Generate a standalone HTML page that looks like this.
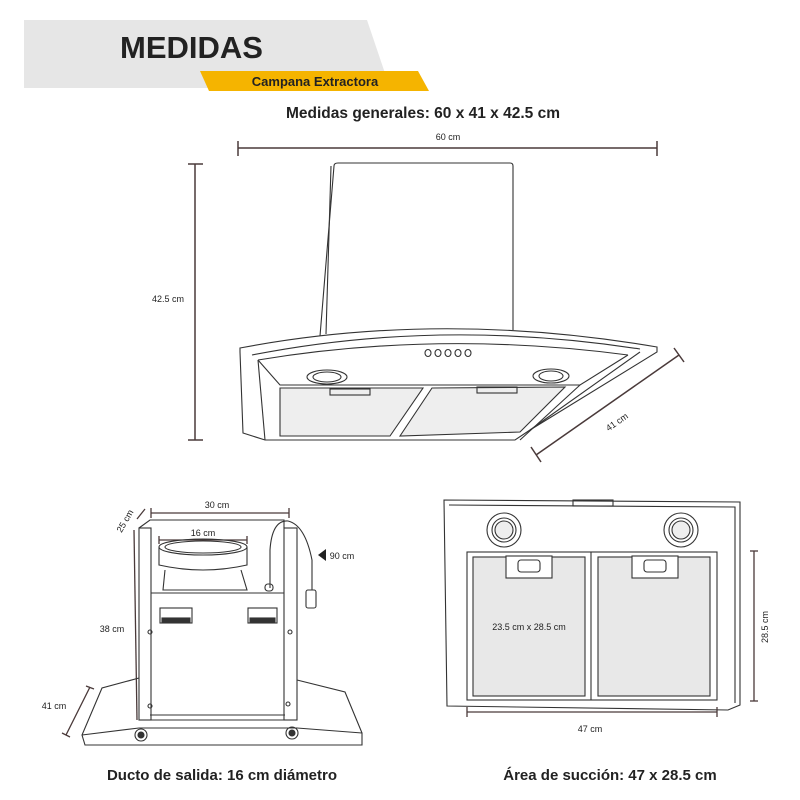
<!DOCTYPE html>
<html><head><meta charset="utf-8"><style>
html,body{margin:0;padding:0;background:#fff;}
svg{display:block;}
text{font-family:"Liberation Sans Narrow","Liberation Sans",sans-serif;fill:#222;}
</style></head><body>
<svg width="800" height="800" viewBox="0 0 800 800" xmlns="http://www.w3.org/2000/svg">
<!-- header -->
<polygon points="24,20 367,20 390,88 24,88" fill="#e6e6e6"/>
<text x="120" y="58" font-size="31" font-weight="bold" fill="#1a1a1a" style="font-family:'Liberation Sans',sans-serif">MEDIDAS</text>
<polygon points="200,71 418,71 429,91 209,91" fill="#f5b400"/>
<text x="315" y="86" font-size="13" font-weight="bold" text-anchor="middle">Campana Extractora</text>
<text x="423" y="118" font-size="15.5" font-weight="bold" text-anchor="middle">Medidas generales: 60 x 41 x 42.5 cm</text>

<g stroke="#4a3a3a" stroke-width="1.5" fill="none">
<line x1="238" y1="148" x2="657" y2="148"/><line x1="238" y1="141" x2="238" y2="156"/><line x1="657" y1="141" x2="657" y2="156"/>
<line x1="195" y1="164" x2="195" y2="440"/><line x1="188" y1="164" x2="203" y2="164"/><line x1="188" y1="440" x2="203" y2="440"/>
<line x1="536" y1="455" x2="679" y2="355"/><line x1="531" y1="447" x2="541" y2="462"/><line x1="674" y1="348" x2="684" y2="362"/>
</g>
<text x="448" y="140" font-size="9" text-anchor="middle">60 cm</text>
<text x="168" y="302" font-size="9" text-anchor="middle">42.5 cm</text>
<text x="617" y="425" font-size="9" text-anchor="middle" transform="rotate(-35 617 422)">41 cm</text>

<!-- hood -->
<g stroke="#333" stroke-width="1.1" fill="none">
<path d="M320,336 L334,166 Q334,163 338,163 L510,163 Q513,163 513,166 L513,330"/>
<line x1="331" y1="166" x2="326" y2="334"/>
<path d="M240,348 Q440,310 657,347 L657,352 L530,430 L515,440 L265,440 L243,433 L240,352 Z"/>
<path d="M252,355 Q440,318 640,349"/>
<path d="M258,360 Q440,330 628,355"/>
<path d="M258,360 L280,385 L580,385 L628,355"/>
<line x1="265" y1="440" x2="258" y2="360"/>
<polygon points="280,388 423,388 390,436 280,436" fill="#eee"/>
<polygon points="432,388 565,387 520,432 400,436" fill="#eee"/>
<line x1="580" y1="385" x2="520" y2="440"/>
<line x1="640" y1="352" x2="530" y2="430"/>
<ellipse cx="327" cy="377" rx="20" ry="7"/><ellipse cx="327" cy="377" rx="14" ry="5"/>
<ellipse cx="551" cy="376" rx="18" ry="7"/><ellipse cx="551" cy="376" rx="12" ry="5"/>
<rect x="330" y="389" width="40" height="6"/><rect x="477" y="387" width="40" height="6"/>
<ellipse cx="428" cy="353" rx="3" ry="3.5"/><ellipse cx="438" cy="353" rx="3" ry="3.5"/><ellipse cx="448" cy="353" rx="3" ry="3.5"/><ellipse cx="458" cy="353" rx="3" ry="3.5"/><ellipse cx="468" cy="353" rx="3" ry="3.5"/>
</g>

<!-- side view -->
<g stroke="#4a3a3a" stroke-width="1.3" fill="none">
<line x1="151" y1="513" x2="289" y2="513"/><line x1="151" y1="508" x2="151" y2="518"/><line x1="289" y1="508" x2="289" y2="518"/>
<line x1="159" y1="540" x2="247" y2="540"/><line x1="159" y1="536" x2="159" y2="544"/><line x1="247" y1="536" x2="247" y2="544"/>
<line x1="137" y1="519" x2="145" y2="509"/>
<line x1="134" y1="530" x2="137" y2="720"/>
<line x1="90" y1="687" x2="66" y2="735"/><line x1="86" y1="686" x2="94" y2="689"/><line x1="62" y1="733" x2="70" y2="737"/>
</g>
<g stroke="#333" stroke-width="1.1" fill="none">
<path d="M139,528 L150,520 L284,520 L284,528"/>
<rect x="139" y="528" width="12" height="192"/>
<rect x="284" y="528" width="13" height="192"/>
<line x1="151" y1="593" x2="284" y2="593"/>
<line x1="151" y1="720" x2="284" y2="720"/>
<line x1="150" y1="715" x2="285" y2="715"/>
<ellipse cx="203" cy="547" rx="44" ry="8"/>
<ellipse cx="203" cy="547" rx="38" ry="6"/>
<path d="M159,547 L159,565 Q203,575 247,565 L247,547"/>
<path d="M165,570 L163,590 L247,590 L241,570"/>
<rect x="160" y="608" width="32" height="15"/><rect x="162" y="618" width="28" height="4" fill="#333"/>
<rect x="248" y="608" width="29" height="15"/><rect x="250" y="618" width="25" height="4" fill="#333"/>
<path d="M270,588 L270,550 Q272,520 288,521 Q305,525 312,560 L312,590"/>
<rect x="265" y="584" width="8" height="7" rx="3"/>
<rect x="306" y="590" width="10" height="18" rx="2"/>
<path d="M139,678 L102,688 L82,735 L85,745 L362,745 L362,733 L345,692 L297,680"/>
<path d="M82,735 L139,728 L297,728 L362,733"/>
<circle cx="141" cy="735" r="6"/><circle cx="141" cy="735" r="3" fill="#333"/>
<circle cx="292" cy="733" r="6"/><circle cx="292" cy="733" r="3" fill="#333"/>
<circle cx="150" cy="632" r="2"/><circle cx="290" cy="632" r="2"/><circle cx="150" cy="706" r="2"/><circle cx="288" cy="704" r="2"/>
</g>
<polygon points="318,555 326,549 326,561" fill="#222"/>
<text x="342" y="559" font-size="9" text-anchor="middle">90 cm</text>
<text x="217" y="508" font-size="9" text-anchor="middle">30 cm</text>
<text x="203" y="536" font-size="9" text-anchor="middle">16 cm</text>
<text x="125" y="524" font-size="9" text-anchor="middle" transform="rotate(-60 125 521)">25 cm</text>
<text x="112" y="632" font-size="9" text-anchor="middle">38 cm</text>
<text x="54" y="709" font-size="9" text-anchor="middle">41 cm</text>
<text x="222" y="780" font-size="15" font-weight="bold" text-anchor="middle">Ducto de salida: 16 cm diámetro</text>

<!-- front view -->
<g stroke="#333" stroke-width="1.1" fill="none">
<path d="M444,500 L740,502 L740,705 L728,710 L447,706 Z"/>
<path d="M449,505 L735,507 L735,703"/>
<rect x="573" y="500" width="40" height="6"/>
<circle cx="504" cy="530" r="17"/><circle cx="504" cy="530" r="12"/><circle cx="504" cy="530" r="9" fill="#eee"/>
<circle cx="681" cy="530" r="17"/><circle cx="681" cy="530" r="12"/><circle cx="681" cy="530" r="9" fill="#eee"/>
<rect x="467" y="552" width="250" height="148"/>
<rect x="473" y="557" width="112" height="139" fill="#e8e8e8"/>
<rect x="598" y="557" width="112" height="139" fill="#e8e8e8"/>
<line x1="591" y1="552" x2="591" y2="700"/>
<rect x="506" y="556" width="46" height="22" fill="#fff"/><rect x="518" y="560" width="22" height="12" rx="3"/>
<rect x="632" y="556" width="46" height="22" fill="#fff"/><rect x="644" y="560" width="22" height="12" rx="3"/>
</g>
<g stroke="#4a3a3a" stroke-width="1.3">
<line x1="754" y1="551" x2="754" y2="701"/><line x1="750" y1="551" x2="758" y2="551"/><line x1="750" y1="701" x2="758" y2="701"/>
<line x1="467" y1="712" x2="717" y2="712"/><line x1="467" y1="707" x2="467" y2="717"/><line x1="717" y1="707" x2="717" y2="717"/>
</g>
<text x="529" y="630" font-size="9" text-anchor="middle">23.5 cm x 28.5 cm</text>
<text x="771" y="630" font-size="9" text-anchor="middle" transform="rotate(-90 768 630)">28.5 cm</text>
<text x="590" y="732" font-size="9" text-anchor="middle">47 cm</text>
<text x="610" y="780" font-size="15" font-weight="bold" text-anchor="middle">Área de succión: 47 x 28.5 cm</text>
</svg>
</body></html>
